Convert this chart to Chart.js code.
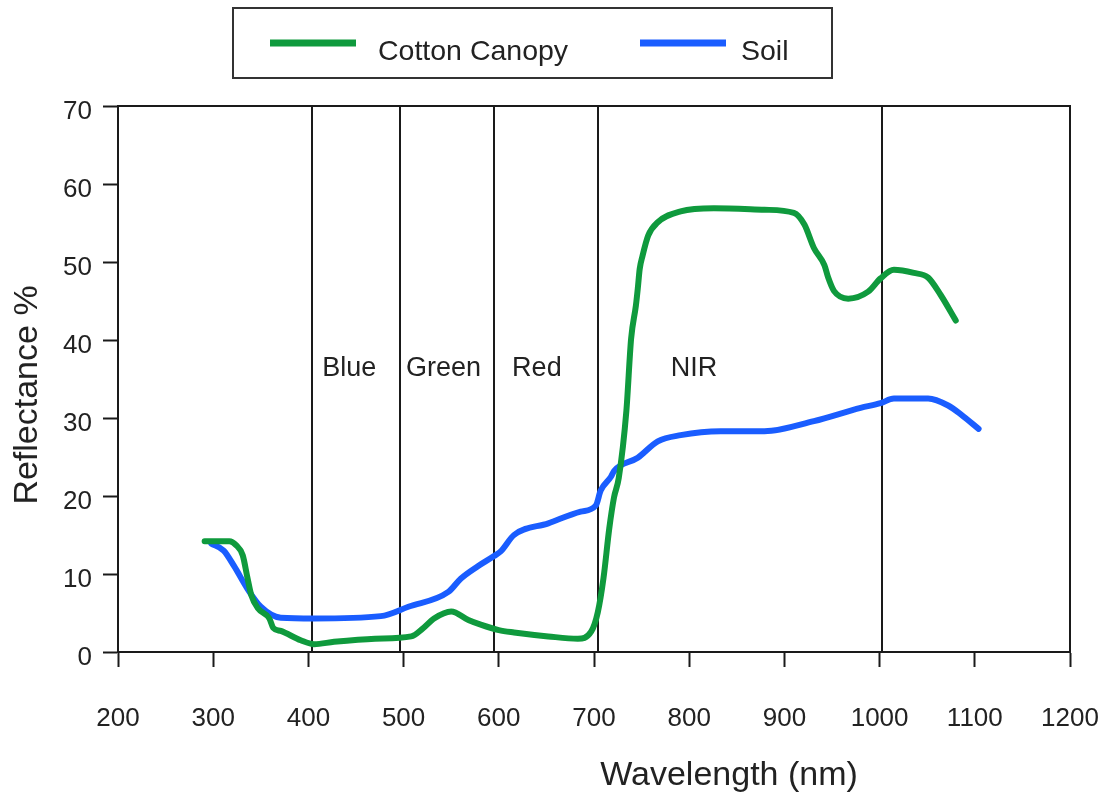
<!DOCTYPE html>
<html><head><meta charset="utf-8">
<script src="https://cdn.jsdelivr.net/npm/chart.js@4"></script>
<style>html,body{margin:0;padding:0;background:#fff}#wrap{width:1113px;height:799px}</style>
</head><body><div id="wrap"><canvas id="c" width="1113" height="799"></canvas></div>
<script>
// ---- data ----
const cottonWavelength  = [291,317,324,331,336,340,347,359,363,371,392,406,427,470,508,520,532,550,568,581,600,616,652,683,697,704,710,716,721,726,734,739,744,746,748,751,757,767,791,826,879,910,921,931,942,946,952,967,988,1001,1015,1036,1051,1064,1080];
const cottonReflectance = [14.2,14.2,13.7,12.4,9.5,7.3,5.6,4.3,3.1,2.7,1.5,1.0,1.3,1.7,2.0,3.0,4.3,5.2,4.1,3.5,2.8,2.5,2.0,1.7,2.6,5.1,9.5,15.8,19.8,22.3,30.9,40.2,44.4,46.6,49.1,50.8,53.4,55.1,56.5,56.9,56.7,56.3,54.8,51.8,49.6,48.0,46.3,45.3,46.2,47.9,49.0,48.6,48.0,45.8,42.5];
const soilWavelength    = [298,311,322,336,350,371,406,476,505,547,560,578,595,602,616,652,686,702,707,718,721,746,767,791,833,879,931,980,1001,1015,1051,1072,1086,1104];
const soilReflectance   = [13.9,13.0,11.0,8.1,5.8,4.4,4.3,4.6,5.8,7.7,9.4,11.0,12.3,12.9,15.0,16.5,18.0,18.8,20.7,22.5,23.2,24.9,27.0,27.8,28.3,28.3,29.6,31.3,31.9,32.5,32.5,31.6,30.4,28.6];
const seriesNames  = ['Cotton Canopy','Soil'];
const bandEdges    = [404,496,595,704,1002];
const bandNames    = ['Blue','Green','Red','NIR'];
const bandLabelX   = [443,542,640,805];
const bandLabelY   = 36.3;
const xTitle = 'Wavelength (nm)';
const yTitle = 'Reflectance %';

const GREEN = '#0f9a3d', BLUE = '#1a5dff', INK = '#1a1a1a';
const FONT = '"Liberation Sans", Arial, sans-serif';

function pts(xs, ys){ return xs.map((x,i)=>({x:x, y:ys[i]})); }

const decor = {
  id:'decor',
  beforeDatasetsDraw(chart){
    const {ctx, chartArea:a, scales:{x,y}} = chart;
    ctx.save();
    ctx.strokeStyle = INK; ctx.lineWidth = 2;
    bandEdges.forEach(v=>{
      const px = Math.round(x.getPixelForValue(v));
      ctx.beginPath(); ctx.moveTo(px, a.top); ctx.lineTo(px, a.bottom); ctx.stroke();
    });
    ctx.fillStyle = '#222';
    ctx.font = '27px ' + FONT;
    ctx.textAlign = 'center'; ctx.textBaseline = 'middle';
    bandNames.forEach((n,i)=>{
      ctx.fillText(n, x.getPixelForValue(bandLabelX[i]), y.getPixelForValue(bandLabelY));
    });
    ctx.restore();
  },
  afterDraw(chart){
    const {ctx, chartArea:a} = chart;
    ctx.save();
    ctx.strokeStyle = INK; ctx.lineWidth = 2;
    ctx.beginPath(); ctx.moveTo(a.left, a.top); ctx.lineTo(a.right, a.top); ctx.lineTo(a.right, a.bottom); ctx.stroke();
    ctx.fillStyle = '#222';
    ctx.font = '34px ' + FONT;
    ctx.textAlign = 'center'; ctx.textBaseline = 'middle';
    ctx.fillText(xTitle, 729, 776);
    ctx.save();
    ctx.translate(28, 395); ctx.rotate(-Math.PI/2);
    ctx.fillText(yTitle, 0, 0);
    ctx.restore();
    ctx.strokeStyle = '#333'; ctx.lineWidth = 2;
    ctx.strokeRect(233, 8, 599, 70);
    const items = chart.data.datasets;
    const lx = [270, 640], tx = [378, 741];
    ctx.font = '28.5px ' + FONT; ctx.textAlign = 'left';
    items.forEach((d,i)=>{
      ctx.strokeStyle = d.borderColor; ctx.lineWidth = 7; ctx.lineCap = 'butt';
      ctx.beginPath(); ctx.moveTo(lx[i], 43); ctx.lineTo(lx[i]+86, 43); ctx.stroke();
      ctx.fillStyle = '#222';
      ctx.fillText(d.label, tx[i], 52);
    });
    ctx.restore();
  }
};

new Chart(document.getElementById('c'), {
  type:'line',
  data:{ datasets:[
    {label:seriesNames[0], data:pts(cottonWavelength,cottonReflectance), borderColor:GREEN, backgroundColor:GREEN},
    {label:seriesNames[1], data:pts(soilWavelength,soilReflectance), borderColor:BLUE, backgroundColor:BLUE}
  ]},
  options:{
    responsive:false, animation:false, devicePixelRatio:1,
    layout:{padding:{left:0,right:43,top:106,bottom:0}},
    elements:{
      line:{borderWidth:6, cubicInterpolationMode:'monotone', borderCapStyle:'round', borderJoinStyle:'round', fill:false},
      point:{radius:0, hoverRadius:0}
    },
    plugins:{legend:{display:false}, tooltip:{enabled:false}},
    scales:{
      x:{type:'linear', min:200, max:1200,
         afterFit(s){ s.height = 147; s.paddingLeft = 0; s.paddingRight = 0; },
         ticks:{stepSize:100, color:'#222', font:{family:FONT, size:26}, padding:36, maxRotation:0, autoSkip:false, callback:v=>String(v)},
         grid:{drawOnChartArea:false, drawTicks:true, tickLength:15, tickWidth:2, tickColor:INK},
         border:{display:true, color:INK, width:2}},
      y:{type:'linear', min:0, max:70,
         afterFit(s){ s.width = 118; s.paddingTop = 0; s.paddingBottom = 0; },
         ticks:{stepSize:10, color:'#222', font:{family:FONT, size:26}, padding:11, labelOffset:6, callback:v=>String(v)},
         grid:{drawOnChartArea:false, drawTicks:true, tickLength:15, tickWidth:2, tickColor:INK},
         border:{display:true, color:INK, width:2}}
    }
  },
  plugins:[decor]
});
</script></body></html>
